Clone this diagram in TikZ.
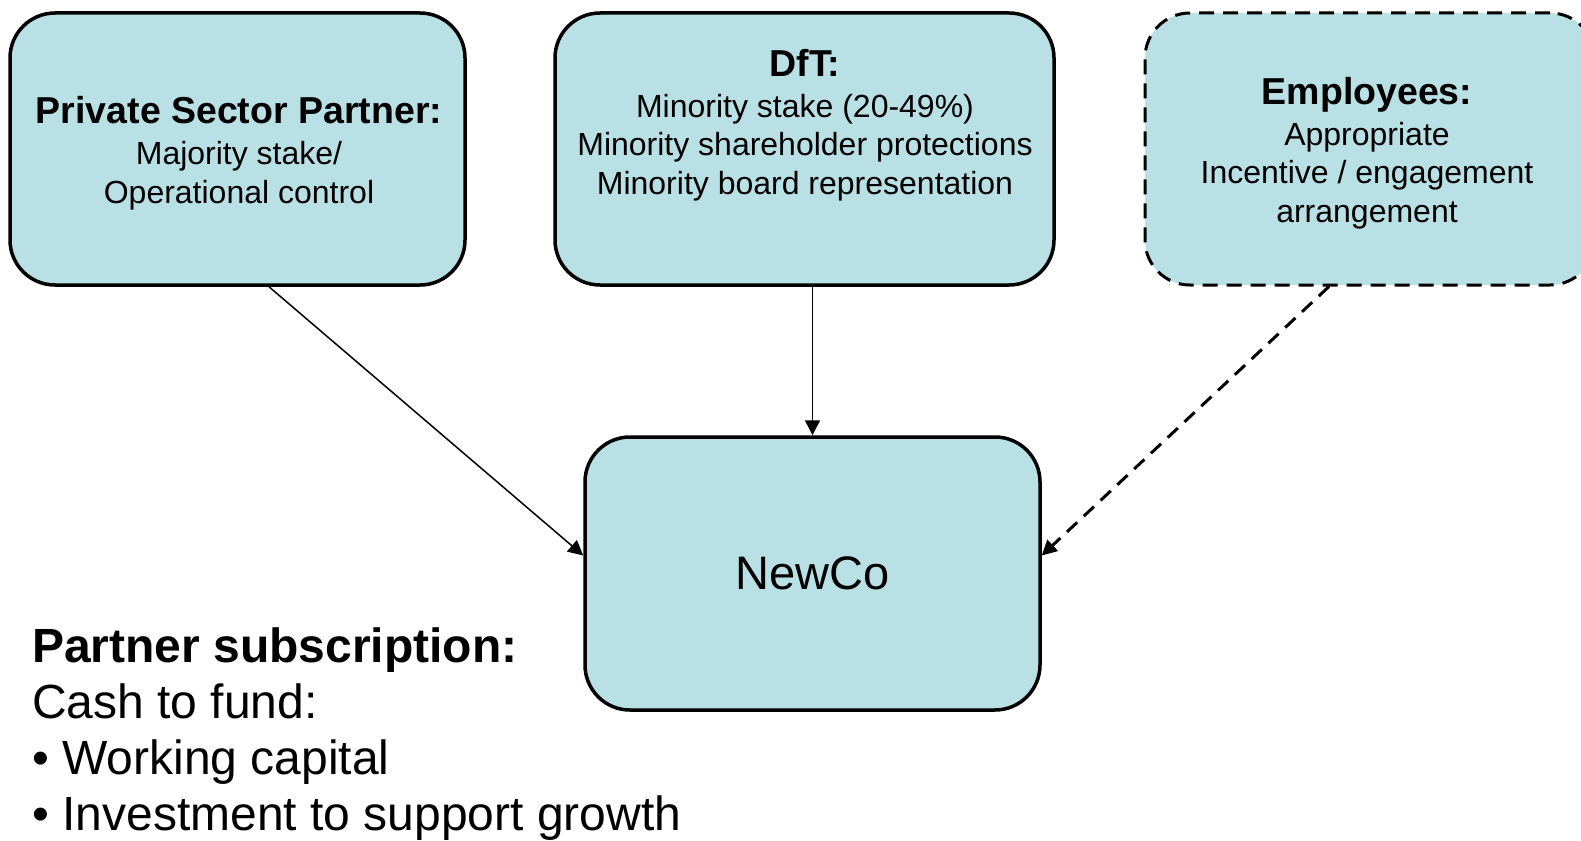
\documentclass[tikz,border=0pt]{standalone}
\usepackage{fontspec}
\setmainfont{Liberation Sans}
\usetikzlibrary{arrows.meta,positioning}

\definecolor{boxfill}{RGB}{185,224,228}

\tikzset{
  partybox/.style={draw, line width=3.5pt, rounded corners=45pt, fill=boxfill, inner sep=0pt},
  boxtext/.style={align=center, inner sep=0pt, anchor=base, font=\fontsize{32}{38.5}\selectfont},
  link/.style={line width=1.5pt, -{Triangle[length=15pt,width=15pt]}},
}
\newcommand{\hdr}[1]{{\fontsize{37.5}{41}\selectfont\bfseries #1}}

\begin{document}
\begin{tikzpicture}[x=1pt,y=-1pt]
  \useasboundingbox (0,0) rectangle (1581,840);

  % the three parties
  \node[partybox, minimum width=455pt, minimum height=272pt] (psp) at (237.5,149) {};
  \node[partybox, minimum width=499pt, minimum height=272pt] (dft) at (804.5,149) {};
  \node[partybox, line width=3pt, dash pattern=on 15pt off 9pt, minimum width=450pt, minimum height=272pt] (emp) at (1370,149) {};

  % base anchor sits on the last line
  \node[boxtext] (psptext) at (239,203) {\hdr{Private Sector Partner:}\\[2.5pt]Majority stake/\\Operational control};
  \node[boxtext] (dfttext) at (805,194) {\hdr{DfT:}\\[2.5pt]Minority stake (20-49\%)\\Minority shareholder protections\\Minority board representation};
  \node[boxtext] (emptext) at (1367,222) {\hdr{Employees:}\\[2.5pt]Appropriate\\Incentive / engagement\\arrangement};

  % the company
  \node[partybox, minimum width=455pt, minimum height=273pt, font=\fontsize{47}{56}\selectfont] (newco) at (812.5,573.5) {NewCo};

  \draw[link] ([xshift=31.5pt]psp.south) -- ([yshift=18pt]newco.west);
  \draw[link] (dft.south -| newco.north) -- (newco.north);
  \draw[link, line width=3pt, dash pattern=on 14pt off 9pt] ([xshift=-41pt]emp.south) -- ([yshift=18pt]newco.east);

  \node[anchor=base west, align=left, inner sep=0pt, font=\fontsize{48}{56}\selectfont] (subs) at (32,830)
    {\textbf{Partner subscription:}\\Cash to fund:\\\textbullet{} Working capital\\\textbullet{} Investment to support growth};
\end{tikzpicture}
\end{document}
